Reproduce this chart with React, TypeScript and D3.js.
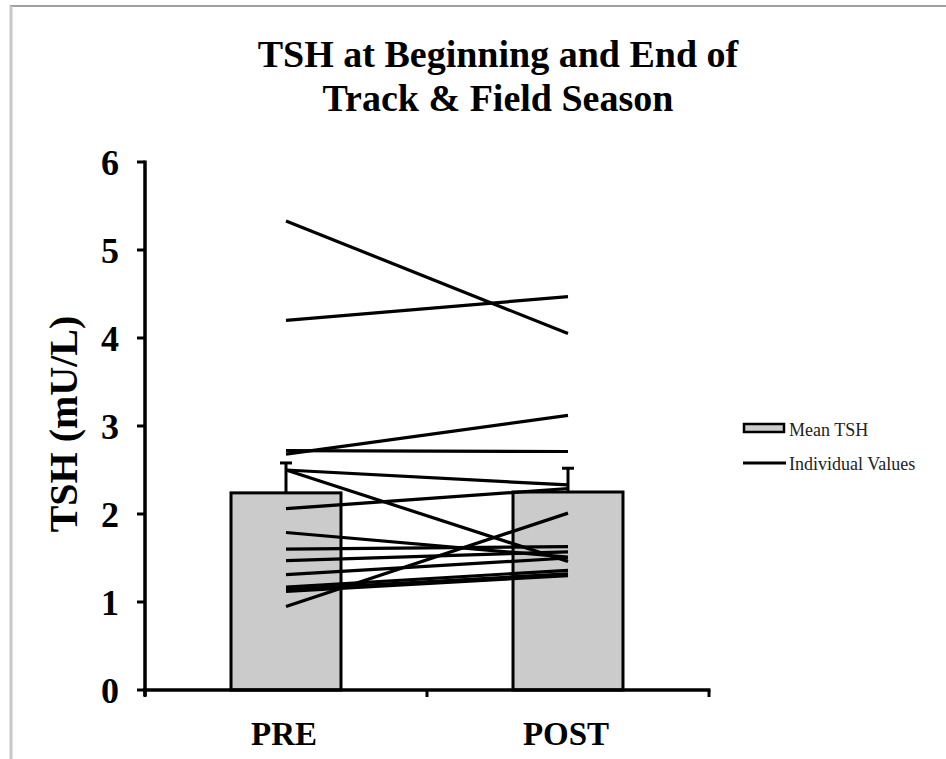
import React from "react";
import * as d3 from "d3";

const categories = ["PRE", "POST"];
const meanTSH = [2.24, 2.25];
const meanErr = [0.34, 0.27];
const preValues = [5.33, 4.2, 2.68, 2.72, 2.5, 2.5, 2.06, 1.79, 1.6, 1.47, 1.31, 1.17, 1.14, 1.12, 0.95];
const postValues = [4.05, 4.47, 3.12, 2.71, 2.33, 1.46, 2.29, 1.51, 1.63, 1.57, 1.5, 1.36, 1.32, 1.3, 2.01];
const yTicks = [0, 1, 2, 3, 4, 5, 6];
const titleLines = ["TSH at Beginning and End of", "Track & Field Season"];
const legendLabels = ["Mean TSH", "Individual Values"];

const W = 946;
const H = 759;
const FONT = "'Liberation Serif', 'Times New Roman', serif";

export default function App() {
  const x = d3.scaleBand<string>().domain(categories).range([145, 709]).padding(0);
  const y = d3.scaleLinear().domain([0, 6]).range([690, 162]);
  const barW = x.bandwidth() * 0.39;
  const cx = (c: string) => (x(c) as number) + x.bandwidth() / 2;
  const line = d3
    .line<[number, number]>()
    .x((d) => d[0])
    .y((d) => d[1]);
  const pairs = preValues.map((v, i) => [v, postValues[i]]);
  const xTickPos = [x.range()[0], cx(categories[0]) + x.bandwidth() / 2, x.range()[1]];

  return (
    <svg
      width={W}
      height={H}
      style={{ position: "absolute", left: 0, top: 0, background: "#fff" }}
      fontFamily={FONT}
    >
      <rect x={0} y={0} width={W} height={H} fill="#fff" />
      {/* page frame */}
      <line x1={10} y1={6} x2={946} y2={6} stroke="#a0a0a0" strokeWidth={2} />
      <line x1={11} y1={6} x2={11} y2={H} stroke="#c8c8c8" strokeWidth={3} />

      {/* title */}
      {titleLines.map((t, i) => (
        <text
          key={t}
          x={498}
          y={67 + i * 44}
          textAnchor="middle"
          fontSize={38}
          fontWeight="bold"
          fill="#000"
        >
          {t}
        </text>
      ))}

      {/* bars */}
      {categories.map((c, i) => (
        <rect
          key={c}
          x={cx(c) - barW / 2}
          y={y(meanTSH[i])}
          width={barW}
          height={y(0) - y(meanTSH[i])}
          fill="#cbcbcb"
          stroke="#000"
          strokeWidth={3}
        />
      ))}

      {/* error bars (upper only) */}
      {categories.map((c, i) => {
        const top = y(meanTSH[i] + meanErr[i]);
        return (
          <g key={"e" + c} stroke="#000" strokeWidth={3}>
            <line x1={cx(c)} x2={cx(c)} y1={y(meanTSH[i])} y2={top} />
            <line x1={cx(c) - 6} x2={cx(c) + 6} y1={top} y2={top} />
          </g>
        );
      })}

      {/* individual lines */}
      {pairs.map((p, i) => (
        <path
          key={"l" + i}
          d={line([
            [cx(categories[0]), y(p[0])],
            [cx(categories[1]), y(p[1])],
          ]) as string}
          fill="none"
          stroke="#000"
          strokeWidth={3.2}
        />
      ))}

      {/* y axis */}
      <line x1={145} x2={145} y1={y(6) - 1.5} y2={y(0) + 6} stroke="#000" strokeWidth={3.5} />
      {yTicks.map((t) => (
        <g key={"yt" + t}>
          <line x1={137} x2={145} y1={y(t)} y2={y(t)} stroke="#000" strokeWidth={3} />
          <text
            x={119}
            y={y(t)}
            dy="0.35em"
            textAnchor="end"
            fontSize={36}
            fontWeight="bold"
            fill="#000"
          >
            {t}
          </text>
        </g>
      ))}
      <text
        transform={`translate(77,${424}) rotate(-90)`}
        textAnchor="middle"
        fontSize={40}
        fontWeight="bold"
        fill="#000"
      >
        TSH (mU/L)
      </text>

      {/* x axis */}
      <line x1={143} x2={x.range()[1] + 1.5} y1={y(0)} y2={y(0)} stroke="#000" strokeWidth={3.5} />
      {xTickPos.map((p, i) => (
        <line key={"xt" + i} x1={p} x2={p} y1={y(0)} y2={y(0) + 7} stroke="#000" strokeWidth={3} />
      ))}
      {categories.map((c) => (
        <text
          key={"xl" + c}
          x={cx(c) - 2}
          y={745}
          textAnchor="middle"
          fontSize={33}
          fontWeight="bold"
          fill="#000"
        >
          {c}
        </text>
      ))}

      {/* legend */}
      <rect x={744} y={424} width={40} height={8} fill="#cbcbcb" stroke="#000" strokeWidth={2.5} />
      <text x={789} y={436} fontSize={18} fill="#222">
        {legendLabels[0]}
      </text>
      <line x1={743} x2={786} y1={463} y2={463} stroke="#000" strokeWidth={3} />
      <text x={789} y={470} fontSize={18} fill="#222">
        {legendLabels[1]}
      </text>
    </svg>
  );
}
